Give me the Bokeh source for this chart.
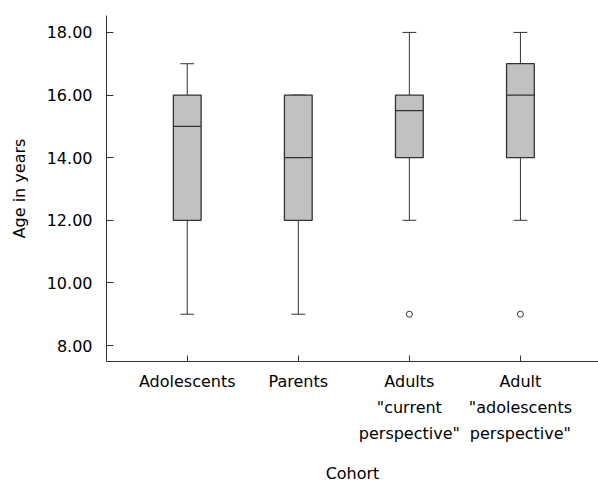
from bokeh.plotting import figure
from bokeh.models import Range1d, FixedTicker, PrintfTickFormatter
from bokeh.embed import file_html
from bokeh.resources import INLINE

categories = ["Adolescents", "Parents", "Adults\n\"current\nperspective\"",
              "Adult\n\"adolescents\nperspective\""]
whisker_low = [9, 9, 12, 12]
q1 = [12, 12, 14, 14]
median = [15, 14, 15.5, 16]
q3 = [16, 16, 16, 17]
whisker_high = [17, 16, 18, 18]
outlier_x = [2, 3]
outlier_y = [9, 9]
y_ticks = [8, 10, 12, 14, 16, 18]

xs = list(range(len(categories)))
FONT = "DejaVu Sans"
LINE = "#333333"

p = figure(width=598, height=486, output_backend="svg", toolbar_location=None,
           x_range=Range1d(-0.727, 3.703), y_range=Range1d(7.49, 18.54),
           min_border_left=106, min_border_right=0, min_border_top=15,
           min_border_bottom=125)
p.outline_line_color = None
p.grid.visible = False
p.background_fill_color = "white"

box_w = 0.25
cap_w = 0.125

# whiskers
p.segment(xs, whisker_low, xs, q1, line_color=LINE, line_width=1)
p.segment(xs, q3, xs, whisker_high, line_color=LINE, line_width=1)
p.segment([x - cap_w / 2 for x in xs], whisker_low, [x + cap_w / 2 for x in xs], whisker_low,
          line_color=LINE, line_width=1)
p.segment([x - cap_w / 2 for x in xs], whisker_high, [x + cap_w / 2 for x in xs], whisker_high,
          line_color=LINE, line_width=1)
# boxes
p.vbar(x=xs, width=box_w, bottom=q1, top=q3, fill_color="#c0c1c0",
       line_color=LINE, line_width=1.3)
# medians
p.segment([x - box_w / 2 for x in xs], median, [x + box_w / 2 for x in xs], median,
          line_color=LINE, line_width=1.2)
# outliers
p.scatter(outlier_x, outlier_y, size=6, marker="circle", fill_color="white",
          line_color=LINE, line_width=1)

# y axis
ya = p.yaxis[0]
ya.ticker = FixedTicker(ticks=y_ticks)
ya.formatter = PrintfTickFormatter(format="%.2f")
ya.axis_label = "Age in years"
ya.major_tick_in = 7
ya.major_tick_out = 0
ya.minor_tick_line_color = None
ya.major_label_standoff = 14
ya.axis_label_standoff = 15

# x axis
xa = p.xaxis[0]
xa.ticker = FixedTicker(ticks=xs)
xa.major_label_overrides = {i: c for i, c in zip(xs, categories)}
xa.axis_label = "Cohort"
xa.major_tick_in = 6
xa.major_tick_out = 0
xa.minor_tick_line_color = None
xa.major_label_standoff = 10
xa.major_label_text_line_height = 1.37
xa.axis_label_standoff = 18
xa.axis_label_text_line_height = 1.0

for ax in (xa, ya):
    ax.axis_line_color = LINE
    ax.major_tick_line_color = LINE
    ax.major_label_text_font = FONT
    ax.major_label_text_font_size = "16px"
    ax.major_label_text_color = "black"
    ax.axis_label_text_font = FONT
    ax.axis_label_text_font_size = "16px"
    ax.axis_label_text_font_style = "normal"
    ax.axis_label_text_color = "black"

open("out.html", "w").write(file_html(p, INLINE))
